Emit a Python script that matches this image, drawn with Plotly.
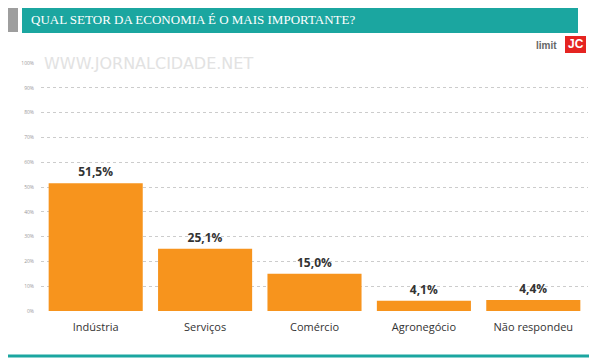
import plotly.graph_objects as go

categories = ["Indústria", "Serviços", "Comércio", "Agronegócio", "Não respondeu"]
values = [51.5, 25.1, 15.0, 4.1, 4.4]
value_labels = ["51,5%", "25,1%", "15,0%", "4,1%", "4,4%"]
tick_vals = [0, 10, 20, 30, 40, 50, 60, 70, 80, 90, 100]
tick_text = [f"{v}%" for v in tick_vals]

# page has an 8px body margin, so the figure is shifted by 8px
W, H = 592, 356
PL, PR, PT, PB = 41, 588, 63, 311  # plot area in screen pixels

fig = go.Figure()
fig.add_trace(go.Bar(
    x=categories, y=values,
    marker=dict(color="#f7941d", line=dict(width=0)),
    text=value_labels, textposition="outside",
    texttemplate="<b>%{text}</b>",
    textfont=dict(family="Open Sans", size=12, color="#333333"),
    cliponaxis=False, hoverinfo="skip",
))

def px(x):
    return (x - PL) / (PR - PL)

def py(y):
    return (PB - y) / (PB - PT)

shapes = [
    dict(type="rect", xref="paper", yref="paper", x0=px(8), x1=px(18), y0=py(32), y1=py(7),
         fillcolor="#9e9e9e", line=dict(width=0), layer="above"),
    dict(type="rect", xref="paper", yref="paper", x0=px(22), x1=px(578), y0=py(33), y1=py(6),
         fillcolor="#1ba6a0", line=dict(width=0), layer="above"),
    dict(type="line", xref="paper", yref="paper", x0=px(8), x1=px(589), y0=py(356), y1=py(356),
         line=dict(color="#1ba6a0", width=3), layer="above"),
    dict(type="rect", xref="paper", yref="paper", x0=px(565), x1=px(586), y0=py(53), y1=py(36),
         fillcolor="#e52421", line=dict(width=0), layer="above"),
]

annotations = [
    dict(text="QUAL SETOR DA ECONOMIA É O MAIS IMPORTANTE?", xref="paper", yref="paper",
         x=px(29), y=py(19.5), xanchor="left", yanchor="middle", showarrow=False,
         font=dict(family="Liberation Serif", size=13, color="white")),
    dict(text="<b>JC</b>", xref="paper", yref="paper", x=px(575.5), y=py(44.5),
         xanchor="center", yanchor="middle", showarrow=False,
         font=dict(family="Liberation Sans", size=12, color="white")),
    dict(text="<b>limit</b>", xref="paper", yref="paper", x=px(546), y=py(45),
         xanchor="center", yanchor="middle", showarrow=False,
         font=dict(family="Liberation Sans", size=10, color="#666666")),
    dict(text="WWW.JORNALCIDADE.NET", xref="paper", yref="paper", x=px(42), y=py(63),
         xanchor="left", yanchor="middle", showarrow=False,
         font=dict(family="DejaVu Sans", size=16, color="#e2e2e2")),
]

fig.update_layout(
    width=W, height=H,
    margin=dict(l=PL - 8, r=W - (PR - 8), t=PT - 8, b=H - (PB - 8)),
    paper_bgcolor="white", plot_bgcolor="white",
    bargap=0.14, showlegend=False,
    shapes=shapes, annotations=annotations,
    xaxis=dict(showline=False, showgrid=False, ticks="", ticklabelstandoff=8,
               tickfont=dict(family="Open Sans", size=11, color="#333333")),
    yaxis=dict(range=[0, 100], tickvals=tick_vals, ticktext=tick_text,
               showgrid=True, gridcolor="#cccccc", griddash="dot", gridwidth=1,
               zeroline=False, showline=False, ticks="", ticklabelstandoff=6,
               tickfont=dict(family="Open Sans", size=5, color="#999999")),
)
fig.write_html("out.html")
